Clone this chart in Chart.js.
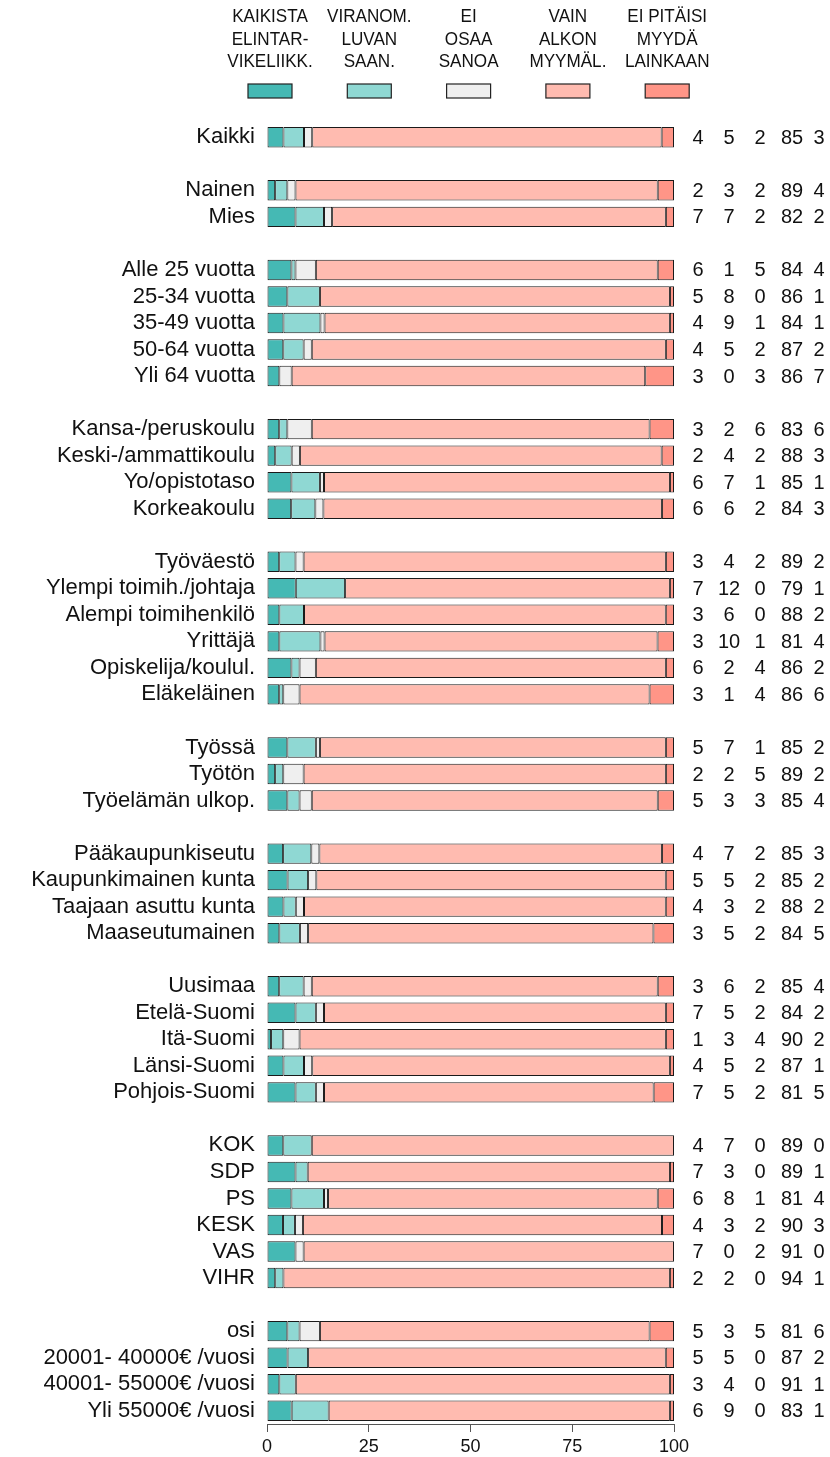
<!DOCTYPE html>
<html>
<head>
<meta charset="utf-8">
<script src="https://cdn.jsdelivr.net/npm/chart.js@4"></script>
<style>
  html, body { margin: 0; padding: 0; background: #fff; }
  #wrap { width: 830px; height: 1457px; position: relative; }
</style>
</head>
<body>
<div id="wrap"><canvas id="chart"></canvas></div>
<script>
// Kategoriat (tyhjä rivi = ryhmien väli)
const categories = [
  'Kaikki', '',
  'Nainen', 'Mies', '',
  'Alle 25 vuotta', '25-34 vuotta', '35-49 vuotta', '50-64 vuotta', 'Yli 64 vuotta', '',
  'Kansa-/peruskoulu', 'Keski-/ammattikoulu', 'Yo/opistotaso', 'Korkeakoulu', '',
  'Työväestö', 'Ylempi toimih./johtaja', 'Alempi toimihenkilö', 'Yrittäjä', 'Opiskelija/koulul.', 'Eläkeläinen', '',
  'Työssä', 'Työtön', 'Työelämän ulkop.', '',
  'Pääkaupunkiseutu', 'Kaupunkimainen kunta', 'Taajaan asuttu kunta', 'Maaseutumainen', '',
  'Uusimaa', 'Etelä-Suomi', 'Itä-Suomi', 'Länsi-Suomi', 'Pohjois-Suomi', '',
  'KOK', 'SDP', 'PS', 'KESK', 'VAS', 'VIHR', '',
  'osi', '20001- 40000€ /vuosi', '40001- 55000€ /vuosi', 'Yli 55000€ /vuosi'
];

// Sarjat (%)
const kaikistaElintarvike = [4, null, 2, 7, null, 6, 5, 4, 4, 3, null, 3, 2, 6, 6, null, 3, 7, 3, 3, 6, 3, null, 5, 2, 5, null, 4, 5, 4, 3, null, 3, 7, 1, 4, 7, null, 4, 7, 6, 4, 7, 2, null, 5, 5, 3, 6];
const viranomLuvan      = [5, null, 3, 7, null, 1, 8, 9, 5, 0, null, 2, 4, 7, 6, null, 4, 12, 6, 10, 2, 1, null, 7, 2, 3, null, 7, 5, 3, 5, null, 6, 5, 3, 5, 5, null, 7, 3, 8, 3, 0, 2, null, 3, 5, 4, 9];
const eiOsaaSanoa       = [2, null, 2, 2, null, 5, 0, 1, 2, 3, null, 6, 2, 1, 2, null, 2, 0, 0, 1, 4, 4, null, 1, 5, 3, null, 2, 2, 2, 2, null, 2, 2, 4, 2, 2, null, 0, 0, 1, 2, 2, 0, null, 5, 0, 0, 0];
const vainAlkon         = [85, null, 89, 82, null, 84, 86, 84, 87, 86, null, 83, 88, 85, 84, null, 89, 79, 88, 81, 86, 86, null, 85, 89, 85, null, 85, 85, 88, 84, null, 85, 84, 90, 87, 81, null, 89, 89, 81, 90, 91, 94, null, 81, 87, 91, 83];
const eiPitaisiMyyda    = [3, null, 4, 2, null, 4, 1, 1, 2, 7, null, 6, 3, 1, 3, null, 2, 1, 2, 4, 2, 6, null, 2, 2, 4, null, 3, 2, 2, 5, null, 4, 2, 2, 1, 5, null, 0, 1, 4, 3, 0, 1, null, 6, 2, 1, 1];

const seriesNames = [
  ['KAIKISTA', 'ELINTAR-', 'VIKELIIKK.'],
  ['VIRANOM.', 'LUVAN', 'SAAN.'],
  ['EI', 'OSAA', 'SANOA'],
  ['VAIN', 'ALKON', 'MYYMÄL.'],
  ['EI PITÄISI', 'MYYDÄ', 'LAINKAAN']
];
const seriesData = [kaikistaElintarvike, viranomLuvan, eiOsaaSanoa, vainAlkon, eiPitaisiMyyda];
const seriesColors = ['#45b9b4', '#8fd8d3', '#efefef', '#ffbbb0', '#ff9587'];
const xTicks = [0, 25, 50, 75, 100];

const FONT = "'Liberation Sans', Arial, Helvetica, sans-serif";

// 100 % pinottu: rivin osuudet skaalataan summaan 100 (pyöristetyt luvut eivät aina summaudu sataan)
const rowTotals = categories.map((c, row) =>
  seriesData[0][row] === null ? null : seriesData.reduce((s, arr) => s + arr[row], 0));
const asShare = arr => arr.map((v, row) => v === null ? null : v / rowTotals[row] * 100);

// Legenda ylös: teksti kolmella rivillä, laatikko alle
const topLegend = {
  id: 'topLegend',
  afterDraw(chart) {
    const ctx = chart.ctx;
    const left = chart.chartArea.left;
    ctx.save();
    ctx.fillStyle = '#111';
    ctx.textAlign = 'center';
    ctx.textBaseline = 'middle';
    ctx.font = '19px ' + FONT;
    seriesNames.forEach((lines, i) => {
      const cx = left + 3 + i * 99.3;
      lines.forEach((t, j) => {
        ctx.save();
        ctx.translate(cx, 17 + j * 22.5);
        ctx.scale(0.9, 1);
        ctx.fillText(t, 0, 0);
        ctx.restore();
      });
      ctx.fillStyle = seriesColors[i];
      ctx.fillRect(cx - 22, 84, 44, 14);
      ctx.strokeStyle = '#222';
      ctx.lineWidth = 1.2;
      ctx.strokeRect(cx - 22, 84, 44, 14);
      ctx.fillStyle = '#111';
    });
    ctx.restore();
  }
};

// Luvut palkkien oikealle puolelle
const valueColumns = {
  id: 'valueColumns',
  afterDraw(chart) {
    const ctx = chart.ctx;
    const yScale = chart.scales.y;
    const right = chart.chartArea.right;
    const offsets = [24, 55, 86, 118, 145];
    ctx.save();
    ctx.fillStyle = '#111';
    ctx.font = '20px ' + FONT;
    ctx.textAlign = 'center';
    ctx.textBaseline = 'middle';
    categories.forEach((c, row) => {
      if (seriesData[0][row] === null) return;
      const y = yScale.getPixelForValue(row) + 1;
      seriesData.forEach((arr, k) => {
        ctx.fillText(String(arr[row]), right + offsets[k], y);
      });
    });
    ctx.restore();
  }
};

new Chart(document.getElementById('chart'), {
  type: 'bar',
  data: {
    labels: categories,
    datasets: seriesData.map((arr, i) => ({
      label: seriesNames[i].join(' '),
      data: asShare(arr),
      backgroundColor: seriesColors[i],
      borderColor: '#1a1a1a',
      borderWidth: 1,
      borderSkipped: false,
      barPercentage: 0.77,
      categoryPercentage: 1
    }))
  },
  options: {
    indexAxis: 'y',
    responsive: true,
    maintainAspectRatio: false,
    animation: false,
    layout: { padding: { top: 124, right: 156, left: 0, bottom: 0 } },
    plugins: {
      legend: { display: false },
      tooltip: { enabled: false }
    },
    scales: {
      x: {
        stacked: true,
        min: 0,
        max: 100,
        afterBuildTicks: (scale) => { scale.ticks = xTicks.map(v => ({ value: v })); },
        afterFit: (scale) => { scale.height = 33; },
        grid: { display: true, drawOnChartArea: false, drawTicks: true, tickLength: 8, color: '#555' },
        border: { display: true, color: '#555' },
        ticks: { color: '#111', font: { family: FONT, size: 18 }, padding: 4, maxRotation: 0 }
      },
      y: {
        stacked: true,
        afterFit: (scale) => { scale.width = 267; },
        grid: { display: false, drawTicks: false },
        border: { display: false },
        ticks: { color: '#111', font: { family: FONT, size: 22 }, padding: 12, autoSkip: false }
      }
    }
  },
  plugins: [topLegend, valueColumns]
});
</script>
</body>
</html>
